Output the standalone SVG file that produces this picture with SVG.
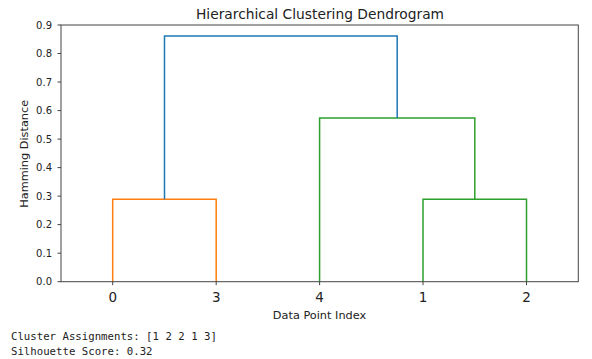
<svg xmlns="http://www.w3.org/2000/svg" width="592" height="359" viewBox="0 0 592 359">
<style>
text{font-family:"DejaVu Sans","Liberation Sans",sans-serif;fill:#222}
.yt{font-size:10px;text-anchor:end}
.xt{font-size:13.5px;text-anchor:middle}
.mono{font-family:"DejaVu Sans Mono","Liberation Mono",monospace;font-size:10.7px;fill:#222}
.ln{fill:none;stroke-width:1.5}
.o{stroke:#ff7f0e}.g{stroke:#2ca02c}.b{stroke:#1f77b4}
.tk{stroke:#444;stroke-width:1}
</style>
<rect width="592" height="359" fill="#fff"/>
<text x="320" y="18.5" font-size="13.8" text-anchor="middle">Hierarchical Clustering Dendrogram</text>
<g id="links">
<path class="ln o" d="M112.7,281.7V199.3H216.2V281.7"/>
<path class="ln g" d="M423,281.7V199.3H526.5V281.7"/>
<path class="ln g" d="M319.6,281.7V118H474.8V199.3"/>
<path class="ln b" d="M164.5,199.3V36H397.2V118"/>
</g>
<g id="axes">
<rect x="61" y="25" width="517.3" height="256.7" fill="none" stroke="#444" stroke-width="1"/>
<path class="tk" d="M57.5,281.7H61M57.5,253.2H61M57.5,224.6H61M57.5,196.1H61M57.5,167.6H61M57.5,139.1H61M57.5,110.6H61M57.5,82H61M57.5,53.5H61M57.5,25H61"/>
<path class="tk" d="M112.7,281.7V285.2M216.2,281.7V285.2M319.6,281.7V285.2M423,281.7V285.2M526.5,281.7V285.2"/>
<text class="yt" x="52" y="285.3">0.0</text>
<text class="yt" x="52" y="256.8">0.1</text>
<text class="yt" x="52" y="228.2">0.2</text>
<text class="yt" x="52" y="199.7">0.3</text>
<text class="yt" x="52" y="171.2">0.4</text>
<text class="yt" x="52" y="142.7">0.5</text>
<text class="yt" x="52" y="114.2">0.6</text>
<text class="yt" x="52" y="85.6">0.7</text>
<text class="yt" x="52" y="57.1">0.8</text>
<text class="yt" x="52" y="28.6">0.9</text>
<text class="xt" x="112.7" y="302">0</text>
<text class="xt" x="216.2" y="302">3</text>
<text class="xt" x="319.6" y="302">4</text>
<text class="xt" x="423" y="302">1</text>
<text class="xt" x="526.5" y="302">2</text>
<text x="319.5" y="319" font-size="11.3" text-anchor="middle">Data Point Index</text>
<text transform="translate(27.5,153.8) rotate(-90)" font-size="11.3" text-anchor="middle">Hamming Distance</text>
</g>
<g id="output">
<text class="mono" x="11" y="340">Cluster Assignments: [1 2 2 1 3]</text>
<text class="mono" x="11" y="355">Silhouette Score: 0.32</text>
</g>
</svg>
